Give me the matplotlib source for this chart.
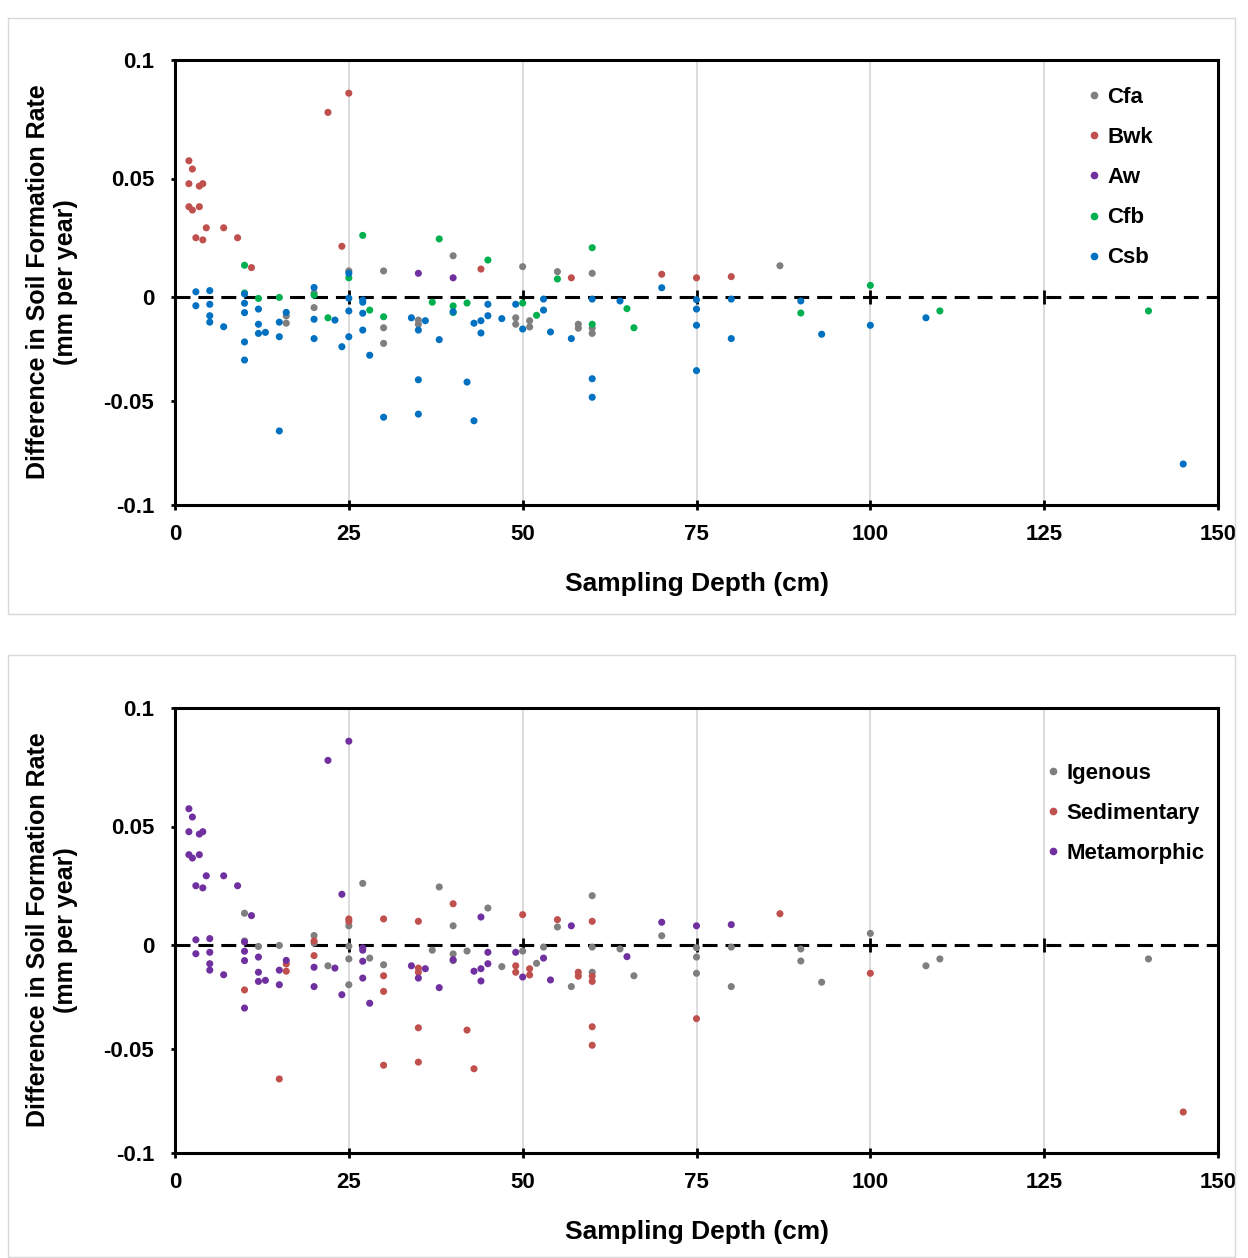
import numpy as np
import matplotlib
matplotlib.use("Agg")
import matplotlib.pyplot as plt
from matplotlib.lines import Line2D
from matplotlib.patches import Rectangle

# ---------------- data ----------------
depth = [2, 2.5, 2, 3.5, 4, 2, 2.5, 3.5, 4.5, 7, 3, 4, 9, 11, 10,
         3, 5, 10, 10, 12, 15, 3, 5, 5, 5, 7, 10, 10, 10, 10,
         12, 12, 12, 13, 15, 15, 15, 16, 16, 16,
         25, 22, 27, 24, 25, 25, 25, 30, 35, 20, 20, 20, 25, 27,
         20, 20, 20, 22, 23, 25, 25, 24, 27, 27, 28, 27, 28, 30,
         30, 30, 30, 34, 35, 35, 35, 35, 35,
         38, 40, 40, 45, 44, 50, 37, 40, 40, 40, 42, 45, 45, 44,
         43, 44, 47, 49, 50, 49, 49, 50, 51, 51, 52, 36, 38, 42, 43,
         60, 55, 55, 57, 60, 70, 70, 53, 53, 54, 57, 58, 58, 60,
         60, 60, 60, 60, 60, 64, 65, 66,
         75, 80, 87, 75, 75, 75, 75, 80, 80, 90, 90, 93, 100, 100,
         108, 110, 140, 145]
rate_diff = [0.0575, 0.0540, 0.0478, 0.0468, 0.0478, 0.0381, 0.0367, 0.0381,
             0.0292, 0.0292, 0.0250, 0.0241, 0.0250, 0.0124, 0.0134,
             0.0022, 0.0027, 0.0013, 0.0017, -0.0007, -0.0002, -0.0042,
             -0.0035, -0.0090, -0.0121, -0.0143, -0.0030, -0.0075, -0.0216,
             -0.0303, -0.0058, -0.0131, -0.0175, -0.0170, -0.0121, -0.0191,
             -0.0644, -0.0074, -0.0091, -0.0126,
             0.0860, 0.0779, 0.0260, 0.0214, 0.0110, 0.0100, 0.0081, 0.0110,
             0.0100, 0.0040, 0.0017, 0.0008, -0.0006, -0.0014,
             -0.0051, -0.0107, -0.0200, -0.0100, -0.0111, -0.0067, -0.0191,
             -0.0239, -0.0025, -0.0078, -0.0063, -0.0159, -0.0280, -0.0095,
             -0.0148, -0.0223, -0.0578, -0.0100, -0.0111, -0.0131, -0.0159,
             -0.0398, -0.0563,
             0.0245, 0.0174, 0.0081, 0.0156, 0.0118, 0.0128, -0.0025,
             -0.0043, -0.0075, -0.0071, -0.0029, -0.0035, -0.0090, -0.0114,
             -0.0126, -0.0173, -0.0104, -0.0035, -0.0029, -0.0100, -0.0131,
             -0.0154, -0.0114, -0.0144, -0.0088, -0.0114, -0.0205, -0.0409,
             -0.0595,
             0.0208, 0.0107, 0.0076, 0.0081, 0.0100, 0.0096, 0.0039,
             -0.0010, -0.0063, -0.0168, -0.0200, -0.0131, -0.0150, -0.0010,
             -0.0131, -0.0150, -0.0175, -0.0393, -0.0482, -0.0019, -0.0056,
             -0.0148,
             0.0081, 0.0086, 0.0132, -0.0013, -0.0058, -0.0136, -0.0354,
             -0.0010, -0.0200, -0.0019, -0.0077, -0.0179, 0.0049, -0.0136,
             -0.0100, -0.0067, -0.0067, -0.0803]
climate = ['Bwk', 'Bwk', 'Bwk', 'Bwk', 'Bwk', 'Bwk', 'Bwk', 'Bwk', 'Bwk',
           'Bwk', 'Bwk', 'Bwk', 'Bwk', 'Bwk', 'Cfb',
           'Csb', 'Csb', 'Csb', 'Cfb', 'Cfb', 'Cfb', 'Csb', 'Csb', 'Csb',
           'Csb', 'Csb', 'Csb', 'Csb', 'Csb', 'Csb',
           'Csb', 'Csb', 'Csb', 'Csb', 'Csb', 'Csb', 'Csb', 'Csb', 'Cfa', 'Cfa',
           'Bwk', 'Bwk', 'Cfb', 'Bwk', 'Cfa', 'Csb', 'Cfb', 'Cfa', 'Aw',
           'Csb', 'Cfa', 'Cfb', 'Csb', 'Csb',
           'Cfa', 'Csb', 'Csb', 'Cfb', 'Csb', 'Csb', 'Csb', 'Csb', 'Csb',
           'Csb', 'Cfb', 'Csb', 'Csb', 'Cfb',
           'Cfa', 'Cfa', 'Csb', 'Csb', 'Cfa', 'Cfa', 'Csb', 'Csb', 'Csb',
           'Cfb', 'Cfa', 'Aw', 'Cfb', 'Bwk', 'Cfa', 'Cfb', 'Cfb', 'Cfb',
           'Csb', 'Cfb', 'Csb', 'Csb', 'Csb',
           'Csb', 'Csb', 'Csb', 'Csb', 'Cfb', 'Cfa', 'Cfa', 'Csb', 'Cfa',
           'Cfa', 'Cfb', 'Csb', 'Csb', 'Csb', 'Csb',
           'Cfb', 'Cfa', 'Cfb', 'Bwk', 'Cfa', 'Bwk', 'Csb', 'Csb', 'Csb',
           'Csb', 'Csb', 'Cfa', 'Cfa', 'Csb',
           'Cfb', 'Cfa', 'Cfa', 'Csb', 'Csb', 'Csb', 'Cfb', 'Cfb',
           'Bwk', 'Bwk', 'Cfa', 'Csb', 'Csb', 'Csb', 'Csb', 'Csb', 'Csb',
           'Csb', 'Cfb', 'Csb', 'Cfb', 'Csb',
           'Csb', 'Cfb', 'Cfb', 'Csb']
rock = ['Metamorphic'] * 14 + ['Igenous'] + \
       ['Metamorphic', 'Metamorphic', 'Metamorphic', 'Igenous', 'Igenous',
        'Igenous', 'Metamorphic', 'Metamorphic', 'Metamorphic',
        'Metamorphic', 'Metamorphic', 'Metamorphic', 'Metamorphic',
        'Sedimentary', 'Metamorphic',
        'Metamorphic', 'Metamorphic', 'Metamorphic', 'Metamorphic',
        'Metamorphic', 'Metamorphic', 'Sedimentary', 'Metamorphic',
        'Sedimentary', 'Sedimentary',
        'Metamorphic', 'Metamorphic', 'Igenous', 'Metamorphic',
        'Sedimentary', 'Sedimentary', 'Igenous', 'Sedimentary',
        'Sedimentary', 'Igenous', 'Sedimentary', 'Igenous', 'Igenous',
        'Metamorphic',
        'Sedimentary', 'Metamorphic', 'Metamorphic', 'Igenous',
        'Metamorphic', 'Igenous', 'Igenous', 'Metamorphic', 'Metamorphic',
        'Metamorphic', 'Igenous', 'Metamorphic', 'Metamorphic', 'Igenous',
        'Sedimentary', 'Sedimentary', 'Sedimentary', 'Metamorphic',
        'Sedimentary', 'Sedimentary', 'Metamorphic', 'Sedimentary',
        'Sedimentary',
        'Igenous', 'Sedimentary', 'Igenous', 'Igenous', 'Metamorphic',
        'Sedimentary', 'Igenous', 'Igenous', 'Igenous', 'Metamorphic',
        'Igenous', 'Metamorphic', 'Metamorphic', 'Metamorphic',
        'Metamorphic', 'Metamorphic', 'Igenous', 'Metamorphic', 'Igenous',
        'Sedimentary', 'Sedimentary', 'Metamorphic', 'Sedimentary',
        'Sedimentary', 'Igenous', 'Metamorphic', 'Metamorphic',
        'Sedimentary', 'Sedimentary',
        'Igenous', 'Sedimentary', 'Igenous', 'Metamorphic', 'Sedimentary',
        'Metamorphic', 'Igenous', 'Igenous', 'Metamorphic', 'Metamorphic',
        'Igenous', 'Sedimentary', 'Sedimentary', 'Igenous',
        'Igenous', 'Sedimentary', 'Sedimentary', 'Sedimentary',
        'Sedimentary', 'Igenous', 'Metamorphic', 'Igenous',
        'Metamorphic', 'Metamorphic', 'Sedimentary', 'Igenous', 'Igenous',
        'Igenous', 'Sedimentary', 'Igenous', 'Igenous', 'Igenous',
        'Igenous', 'Igenous', 'Igenous', 'Sedimentary',
        'Igenous', 'Igenous', 'Igenous', 'Sedimentary']

climate_order = ['Cfa', 'Bwk', 'Aw', 'Cfb', 'Csb']
climate_colors = ['#7F7F7F', '#C0504D', '#7030A0', '#00B050', '#0070C0']
rock_order = ['Igenous', 'Sedimentary', 'Metamorphic']
rock_colors = ['#7F7F7F', '#C0504D', '#7030A0']

x_ticks = [0, 25, 50, 75, 100, 125, 150]
y_ticks = [-0.1, -0.05, 0, 0.05, 0.1]
y_tick_labels = ['-0.1', '-0.05', '0', '0.05', '0.1']
x_label = 'Sampling Depth (cm)'
y_label = 'Difference in Soil Formation Rate\n(mm per year)'

# ---------------- style ----------------
plt.rcParams['font.family'] = ['Liberation Sans', 'DejaVu Sans']
plt.rcParams['font.weight'] = 'bold'

R = 237.0 / 208.0  # positive half of the axis is drawn taller


def fwd(v):
    v = np.asarray(v, dtype=float)
    return np.where(v >= 0, v * R, v)


def inv(u):
    u = np.asarray(u, dtype=float)
    return np.where(u >= 0, u / R, u)


W, H = 1248, 1258
fig = plt.figure(figsize=(W / 100, H / 100), dpi=100)

depth_a = np.array(depth)
rate_a = np.array(rate_diff)
climate_a = np.array(climate)
rock_a = np.array(rock)

panels = [
    dict(box=(8, 18, 1235, 614), ax_top=60, cats=climate_a, order=climate_order,
         colors=climate_colors, leg=(1088.5, 87)),
    dict(box=(8, 655, 1235, 1257), ax_top=708, cats=rock_a, order=rock_order,
         colors=rock_colors, leg=(1047.5, 763)),
]

for p in panels:
    x0, y0, x1, y1 = p['box']
    fig.patches.append(Rectangle((x0 / W, 1 - y1 / H), (x1 - x0) / W, (y1 - y0) / H,
                                 transform=fig.transFigure, fill=False,
                                 edgecolor='#D9D9D9', lw=1.0))
    top = p['ax_top']
    bottom = top + 445
    ax = fig.add_axes([175 / W, 1 - bottom / H, 1043 / W, 445 / H])
    ax.set_yscale('function', functions=(fwd, inv))
    ax.set_xlim(0, 150)
    ax.set_ylim(-0.1, 0.1)
    ax.set_xticks(x_ticks)
    ax.set_xticklabels([str(t) for t in x_ticks])
    ax.set_yticks(y_ticks)
    ax.set_yticklabels(y_tick_labels)
    ax.yaxis.set_minor_locator(matplotlib.ticker.NullLocator())
    ax.tick_params(axis='y', direction='out', length=3, width=2, pad=12,
                   labelsize=16)
    ax.tick_params(axis='x', direction='inout', length=7, width=2, pad=10,
                   labelsize=16)
    for s in ax.spines.values():
        s.set_linewidth(2.2)
        s.set_color('black')
    ax.grid(axis='x', color='#D9D9D9', lw=1.3, zorder=0)
    ax.set_axisbelow(True)
    ax.axhline(0, color='black', lw=2.2, dashes=(4.9, 2.6), zorder=1)
    ax.plot(x_ticks[1:-1], [0] * (len(x_ticks) - 2), ls='', marker='|',
            ms=10, mew=2, color='black', zorder=1)

    handles = []
    for name, col in zip(p['order'], p['colors']):
        m = p['cats'] == name
        ax.scatter(depth_a[m], rate_a[m], s=26, color=col, edgecolors='none',
                   zorder=3)
        handles.append(Line2D([], [], ls='', marker='o', ms=4.5, color=col))

    lx, ly = p['leg']
    ax.legend(handles, p['order'], loc='upper left',
              bbox_to_anchor=((lx - 175) / 1043, (bottom - ly) / 445),
              frameon=False, handlelength=0.5, handletextpad=0.35,
              labelspacing=0.86, borderpad=0, borderaxespad=0,
              prop=dict(weight='bold', size=16))

    fig.text(52 / W, 1 - (top + 222) / H, y_label, rotation=90, ha='center',
             va='center', fontsize=18, fontweight='bold', multialignment='center')
    fig.text(697 / W, 1 - (top + 524) / H, x_label, ha='center', va='center',
             fontsize=19, fontweight='bold')

fig.savefig('out.png', dpi=100)
